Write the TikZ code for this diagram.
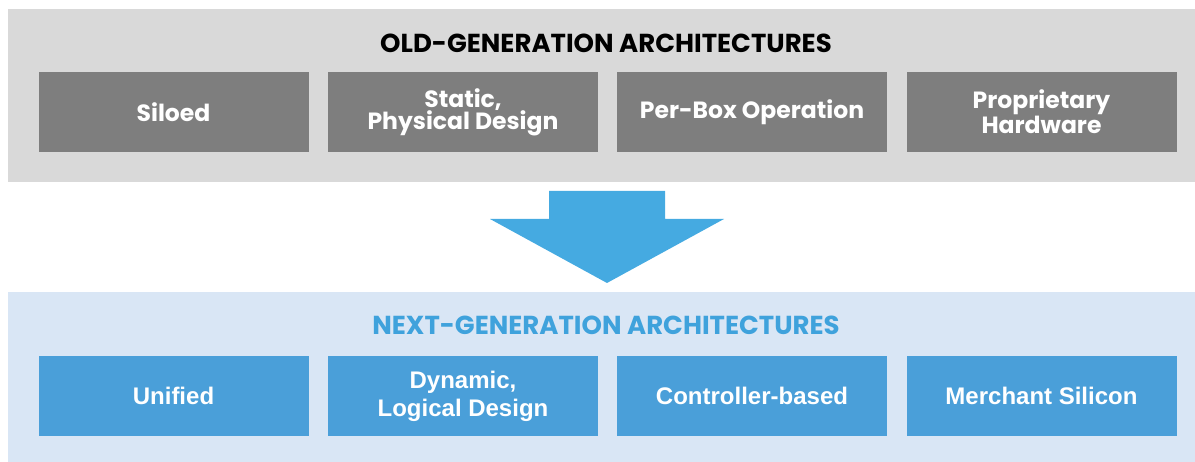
\documentclass[tikz,border=0pt]{standalone}
\usepackage{fontspec}
\setmainfont{Liberation Sans}
\newfontfamily\gotham{Poppins}
\usetikzlibrary{positioning}

\definecolor{oldpanel}{HTML}{D9D9D9}
\definecolor{oldbox}{HTML}{7E7E7E}
\definecolor{newpanel}{HTML}{D9E6F5}
\definecolor{newbox}{HTML}{4A9FD9}
\definecolor{newtitle}{HTML}{3FA2DC}
\definecolor{arrowblue}{HTML}{45AAE1}

\begin{document}
\begin{tikzpicture}[x=1pt,y=-1pt,
  oldbox/.style={fill=oldbox, text=white, minimum width=270pt, minimum height=80pt,
    inner sep=0pt, align=center, font=\gotham\fontsize{23.5}{22}\selectfont\bfseries},
  newbox/.style={fill=newbox, text=white, minimum width=270pt, minimum height=80pt,
    inner sep=0pt, align=center, font=\fontsize{24}{28}\selectfont\bfseries},
  heading/.style={font=\gotham\fontsize{26}{26}\selectfont\bfseries, inner sep=0pt}]
\useasboundingbox (0,0) rectangle (1195,462);
% panels
\fill[oldpanel] (8,9) rectangle (1195,182);
\fill[newpanel] (8,292) rectangle (1195,462);
% old generation
\node[heading] (oldtitle) at (606,43) {OLD-GENERATION ARCHITECTURES};
\node[oldbox] (o1) at (173.5,112) {Siloed};
\node[oldbox] (o2) at (463,112) {Static,\\Physical Design};
\node[oldbox] (o3) at (752,112) {Per-Box Operation};
\node[oldbox] (o4) at (1041.5,112) {Proprietary\\Hardware};
% arrow
\fill[arrowblue] (549,191) -- (665,191) -- (665,219) -- (724,219) -- (607,283)
  -- (490,219) -- (549,219) -- cycle;
% next generation
\node[heading, text=newtitle] (newtitle) at (606,325) {NEXT-GENERATION ARCHITECTURES};
\node[newbox] (n1) at (173.5,396) {Unified};
\node[newbox] (n2) at (463,396) {Dynamic,\\Logical Design};
\node[newbox] (n3) at (752,396) {Controller-based};
\node[newbox] (n4) at (1041.5,396) {Merchant Silicon};
\end{tikzpicture}
\end{document}
